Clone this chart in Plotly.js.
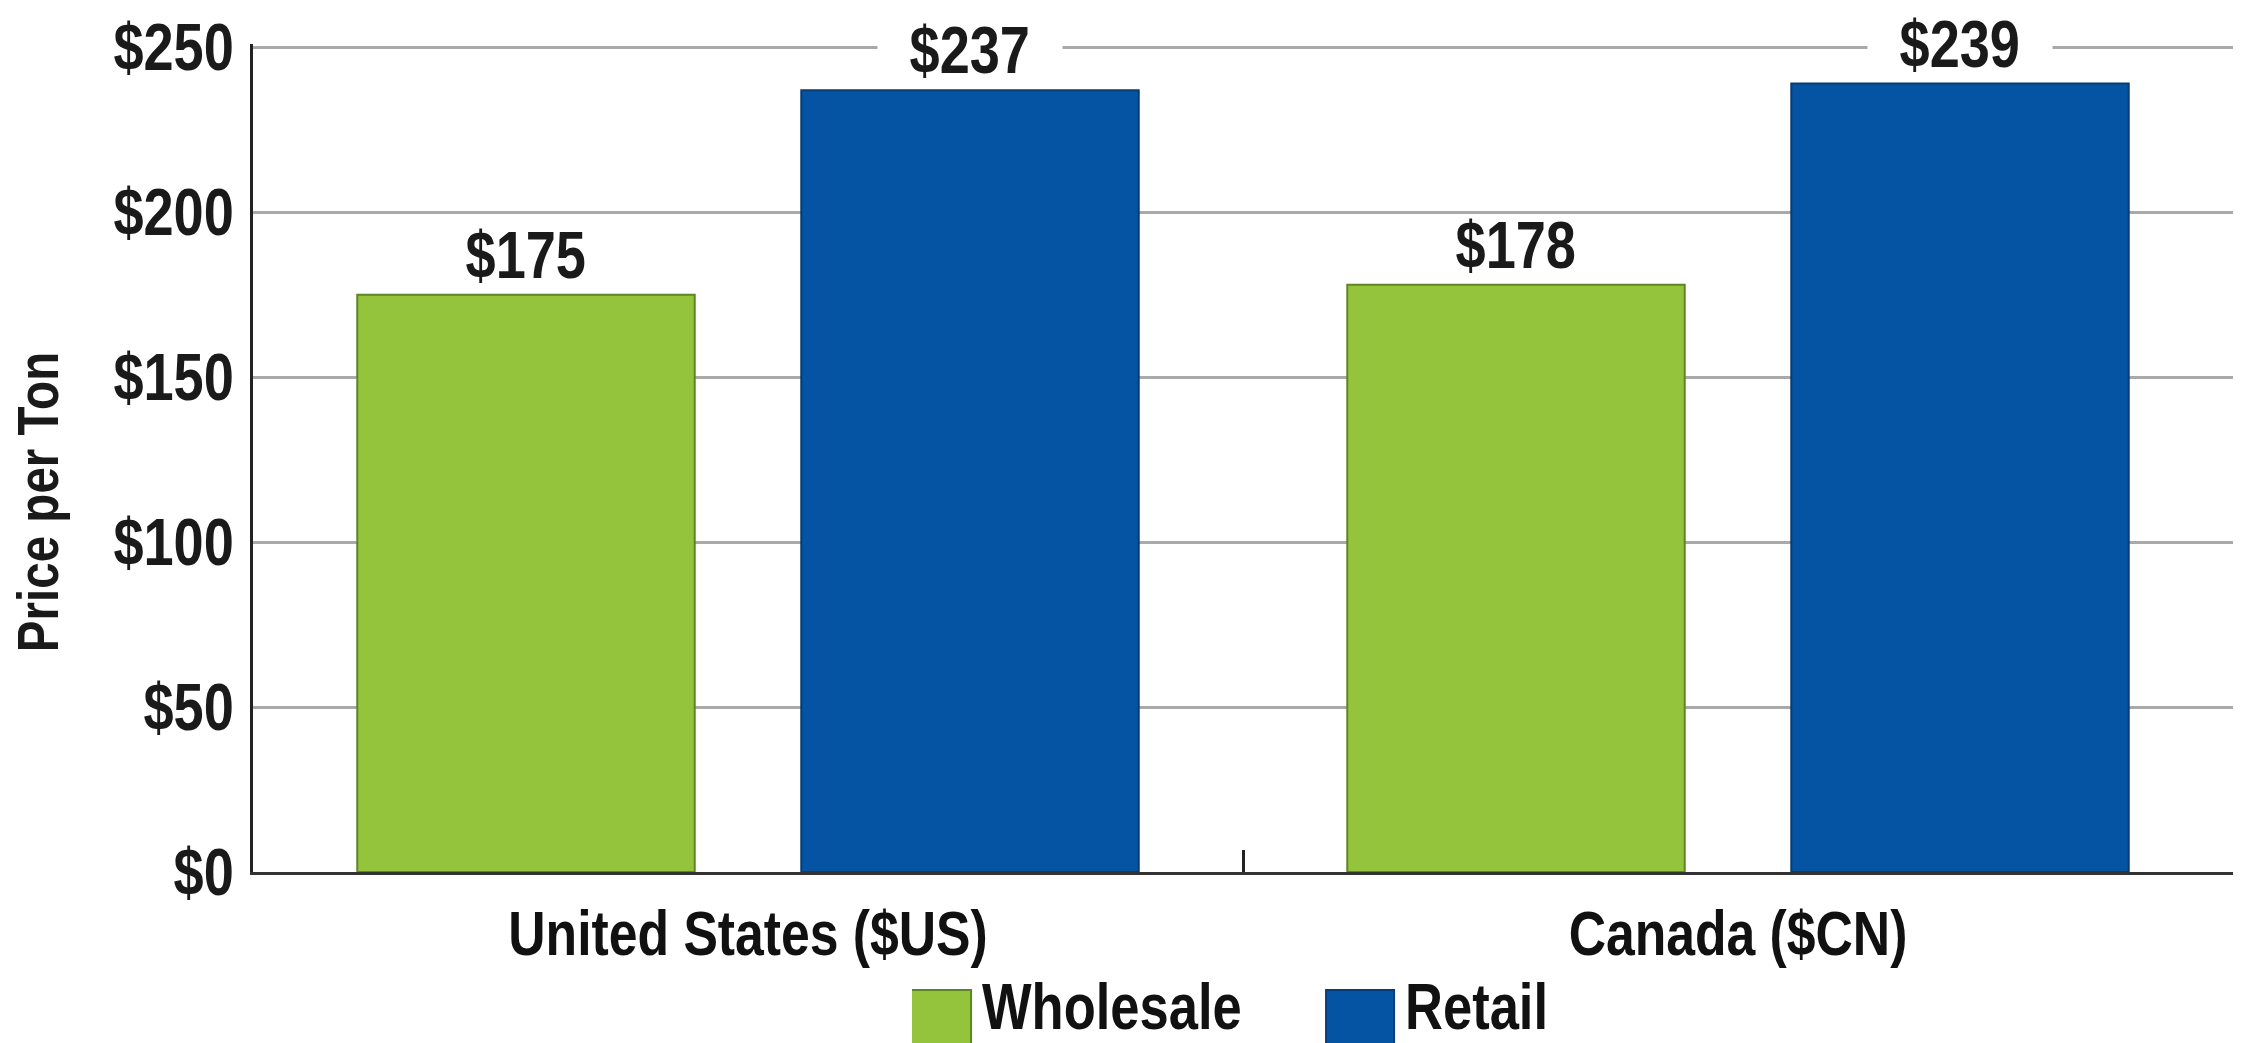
<!DOCTYPE html>
<html>
<head>
<meta charset="utf-8">
<script src="https://cdn.plot.ly/plotly-3.0.1.min.js"></script>
<style>
  html, body { margin: 0; padding: 0; background: #ffffff; }
  #chart { width: 2247px; height: 1043px; }
</style>
</head>
<body>
<div id="chart"></div>
<script>
// ---- data ----
const categories = ["United States ($US)", "Canada ($CN)"];
const seriesNames = ["Wholesale", "Retail"];
const wholesale = [175, 178];
const retail = [237, 239];
const yTickValues = [0, 50, 100, 150, 200, 250];
const yTickLabels = ["$0", "$50", "$100", "$150", "$200", "$250"];

// ---- style ----
const FONT = '"Liberation Sans", Arial, sans-serif';
const green = '#94C43B';
const greenEdge = '#5F8426';
const blue = '#0554A3';
const blueEdge = '#073C74';
const bargap = 0.103;
const bargroupgap = 0.24;
const plotW = 2247 - 253 - 14;
const CONDENSE = 0.82;   // horizontal squeeze to mimic the condensed face

const traces = [
  {
    type: 'bar', name: seriesNames[0], x: categories, y: wholesale,
    marker: { color: green, line: { color: greenEdge, width: 2 } },
    hoverinfo: 'skip'
  },
  {
    type: 'bar', name: seriesNames[1], x: categories, y: retail,
    marker: { color: blue, line: { color: blueEdge, width: 2 } },
    hoverinfo: 'skip'
  }
];

// value labels above bars
const catW = plotW / categories.length;
const slot = catW * (1 - bargap) / 2;
const series = [wholesale, retail];
const annotations = [];
series.forEach((vals, s) => {
  vals.forEach((v, i) => {
    annotations.push({
      x: categories[i], y: v, xref: 'x', yref: 'y',
      xshift: (s === 0 ? -1 : 1) * slot / 2,
      yshift: 2,
      yanchor: 'bottom',
      text: '\u00a0$' + v + '\u00a0',
      showarrow: false,
      bgcolor: '#ffffff',
      borderpad: 0,
      font: { family: FONT, size: 66, color: '#1a1a1a', weight: 'bold' }
    });
  });
});

const layout = {
  width: 2247, height: 1043,
  margin: { l: 253, r: 14, t: 44, b: 171, pad: 0, autoexpand: false },
  paper_bgcolor: '#ffffff', plot_bgcolor: '#ffffff',
  barmode: 'group', bargap: bargap, bargroupgap: bargroupgap,
  font: { family: FONT, size: 64, color: '#1a1a1a', weight: 'bold' },
  showlegend: true,
  legend: {
    orientation: 'h', xref: 'paper', x: 0.5465, xanchor: 'center',
    yref: 'container', y: 0.0834, yanchor: 'top',
    font: { family: FONT, size: 64, color: '#111111', weight: 'bold' },
    itemwidth: 60, traceorder: 'normal', bgcolor: 'rgba(0,0,0,0)',
    entrywidth: 348
  },
  xaxis: {
    type: 'category', tickson: 'boundaries', ticks: 'inside', ticklen: 22,
    tickwidth: 3, tickcolor: '#222222',
    showline: true, linecolor: '#333333', linewidth: 3,
    showgrid: false, zeroline: false, automargin: false,
    ticklabelstandoff: 4,
    tickfont: { family: FONT, size: 63, color: '#111111', weight: 'bold' },
    fixedrange: true
  },
  yaxis: {
    range: [0, 251], tickvals: yTickValues, ticktext: yTickLabels,
    showgrid: true, gridcolor: '#a9a9a9', gridwidth: 3,
    showline: true, linecolor: '#222222', linewidth: 3,
    zeroline: false, ticks: '', automargin: false,
    ticklabelstandoff: 3,
    tickfont: { family: FONT, size: 66, color: '#1a1a1a', weight: 'bold' },
    title: {
      text: 'Price per Ton', standoff: 0,
      font: { family: FONT, size: 58, color: '#1a1a1a', weight: 'bold' }
    },
    fixedrange: true
  },
  annotations: annotations
};

Plotly.newPlot('chart', traces, layout, { staticPlot: true, displayModeBar: false }).then(() => {
  // enlarge legend swatches to match the reference's large squares
  document.querySelectorAll('.legendpoints path').forEach(p => {
    p.setAttribute('d', 'M24,54H-44V-14H24Z');
  });
  // trim the empty ascent area off the label masks so they only hide the gridline behind the text
  document.querySelectorAll('.annotation rect.bg').forEach(r => {
    const y = parseFloat(r.getAttribute('y')) || 0;
    const h = parseFloat(r.getAttribute('height')) || 0;
    r.setAttribute('y', y + 14);
    r.setAttribute('height', Math.max(0, h - 14));
  });
  // the reference's axis title sits a little below the axis middle
  const yt = document.querySelector('.g-ytitle');
  if (yt) yt.setAttribute('transform', 'translate(-10,44)');
  // squeeze text horizontally to emulate a condensed bold face
  document.querySelectorAll('#chart svg text').forEach(t => {
    const len = t.getComputedTextLength();
    if (len > 0) {
      t.setAttribute('textLength', (len * CONDENSE).toFixed(1));
      t.setAttribute('lengthAdjust', 'spacingAndGlyphs');
    }
  });
});
</script>
</body>
</html>
